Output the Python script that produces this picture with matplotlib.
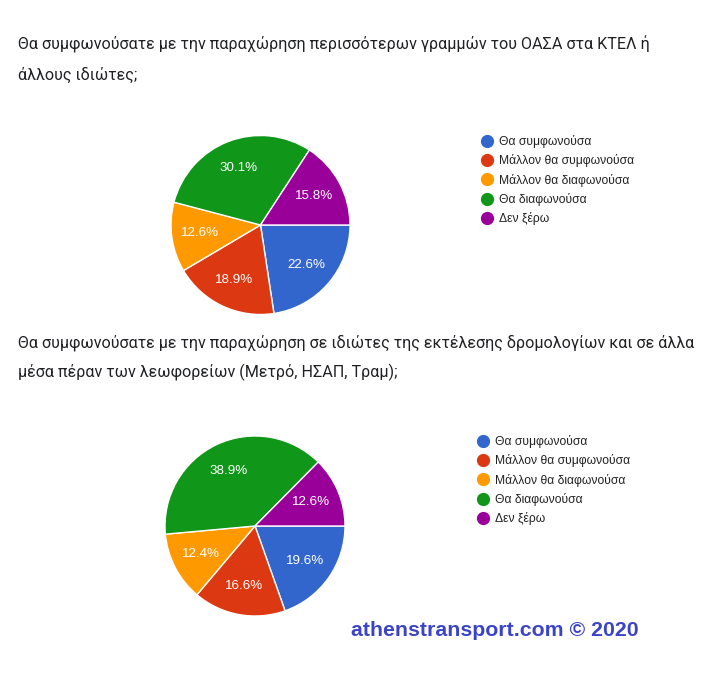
import matplotlib
matplotlib.use("Agg")
from matplotlib import pyplot as plt
from matplotlib.lines import Line2D

W, H = 714, 680

labels = ["Θα συμφωνούσα", "Μάλλον θα συμφωνούσα", "Μάλλον θα διαφωνούσα",
          "Θα διαφωνούσα", "Δεν ξέρω"]
colors = ["#3366cc", "#dc3912", "#ff9900", "#109618", "#990099"]

title1 = ["Θα συμφωνούσατε με την παραχώρηση περισσότερων γραμμών του ΟΑΣΑ στα ΚΤΕΛ ή",
          "άλλους ιδιώτες;"]
values1 = [22.6, 18.9, 12.6, 30.1, 15.8]

title2 = ["Θα συμφωνούσατε με την παραχώρηση σε ιδιώτες της εκτέλεσης δρομολογίων και σε άλλα",
          "μέσα πέραν των λεωφορείων (Μετρό, ΗΣΑΠ, Τραμ);"]
values2 = [19.6, 16.6, 12.4, 38.9, 12.6]

watermark = "athenstransport.com © 2020"


def px(x, y):
    # pixel coords (top-left origin) to figure fraction
    return x / W, 1 - y / H


def draw_pie(fig, values, cx, cy, r):
    ax = fig.add_axes([(cx - r) / W, 1 - (cy + r) / H, 2 * r / W, 2 * r / H])
    wedges, texts = ax.pie(values, colors=colors, startangle=0, counterclock=False,
                           labels=["%.1f%%" % v for v in values], labeldistance=0.68,
                           wedgeprops=dict(edgecolor="white", linewidth=1))
    for t in texts:
        t.set_color("white")
        t.set_fontsize(9.6)
        t.set_family("Liberation Sans")
        t.set_ha("center")
        t.set_va("center")
    ax.set_xlim(-1, 1)
    ax.set_ylim(-1, 1)
    ax.set_aspect("auto")
    ax.axis("off")
    return ax


def draw_legend(fig, x, y):
    handles = [Line2D([], [], marker="o", linestyle="none", markersize=8.5,
                      markerfacecolor=c, markeredgecolor=c) for c in colors]
    leg = fig.legend(handles, labels, loc="upper left", bbox_to_anchor=px(x, y),
                     frameon=False, borderpad=0, borderaxespad=0, handlelength=0.95,
                     handletextpad=0.5, labelspacing=0.52,
                     prop=dict(family="Liberation Sans", size=8.7))
    for t in leg.get_texts():
        t.set_color("#222222")
    return leg


def draw_title(fig, lines, x, y0, step):
    for i, line in enumerate(lines):
        fig.text(*px(x, y0 + i * step), line, ha="left", va="center",
                 family="Roboto", fontsize=11.6, color="#202124")


fig = plt.figure(figsize=(W / 100, H / 100), dpi=100)
fig.patch.set_facecolor("white")

draw_title(fig, title1, 18, 44, 31)
draw_pie(fig, values1, 260.5, 225, 89.5)
draw_legend(fig, 481, 135)

draw_title(fig, title2, 18, 343, 29)
draw_pie(fig, values2, 255, 526, 90)
draw_legend(fig, 477, 435)

fig.text(*px(351, 631), watermark, ha="left", va="center", family="Liberation Sans",
         fontweight="bold", fontsize=15.3, color="#3b44c8")

fig.savefig("out.png", dpi=100)
